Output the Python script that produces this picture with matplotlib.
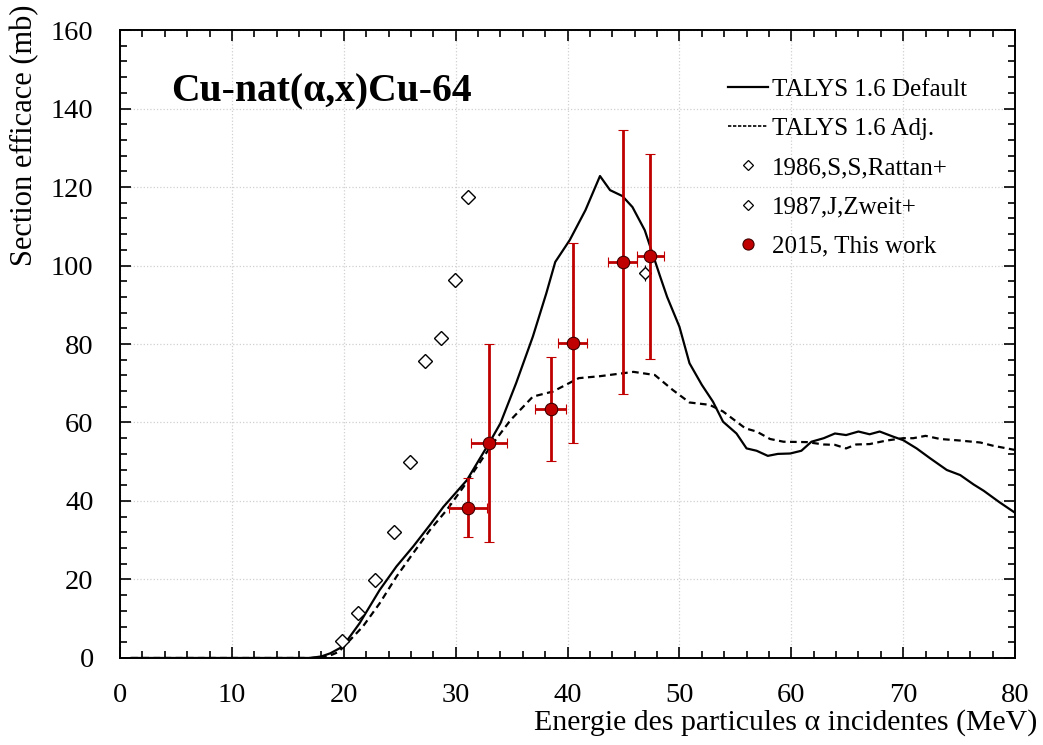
import matplotlib.pyplot as plt
from matplotlib.lines import Line2D
from matplotlib.ticker import MultipleLocator

plt.rcParams['font.family'] = ['Liberation Serif', 'DejaVu Serif']

# ===================================
# Data
# ===================================

# TALYS 1.6 default
def_e = [1, 17, 18, 18.8, 19.9, 21.4, 23.2, 24.7, 26.2, 27.7, 28.9, 31.0, 33.0, 34.0,
         35.4, 36.9, 38.1, 38.9, 40.2, 41.6, 42.9, 43.8, 44.9, 45.8, 46.9, 48.3, 48.9,
         50.0, 50.9, 52.0, 53.0, 53.9, 55.1, 56.0, 56.9, 57.9, 58.8, 59.9, 60.9, 61.8,
         62.9, 63.9, 64.9, 66.0, 67.0, 67.9, 69.1, 70.0, 71.2, 72.4, 73.9, 75.1, 76.3,
         77.2, 78.6, 80.0]
def_xs = [0, 0, 0.4, 1.2, 2.9, 8.8, 17.3, 23.3, 28.4, 33.9, 38.5, 45.3, 54.8, 59.8,
          70.0, 81.9, 92.9, 100.9, 106.5, 114.1, 122.8, 119.2, 117.7, 114.9, 109.0, 97.0, 92.0,
          84.4, 75.1, 69.6, 65.3, 60.2, 57.2, 53.4, 52.8, 51.5, 52.0, 52.1, 52.8, 55.1,
          56.0, 57.2, 56.8, 57.7, 57.0, 57.7, 56.4, 55.5, 53.4, 50.9, 47.9, 46.6, 44.2,
          42.6, 39.7, 37.0]

# TALYS 1.6 adjusted
adj_e = [1, 17, 18.5, 19.5, 19.9, 21.7, 23.2, 24.7, 26.2, 27.7, 29.2, 30.7, 33.1, 34.9,
         36.9, 38.7, 41.0, 42.9, 45.9, 47.8, 49.4, 50.9, 52.7, 53.9, 55.9, 56.9, 58.1,
         59.3, 61.4, 62.9, 63.9, 64.9, 65.8, 67.0, 68.5, 70.0, 70.9, 72.0, 73.3, 75.1,
         76.9, 78.0, 80.0]
adj_xs = [0, 0, 0.3, 1.5, 2.6, 8.0, 13.9, 20.7, 26.7, 32.6, 37.7, 43.6, 53.8, 60.6,
          66.6, 67.9, 71.3, 71.8, 72.9, 72.1, 68.3, 65.1, 64.5, 62.8, 58.5, 57.7, 55.8,
          55.1, 55.0, 54.4, 54.3, 53.4, 54.4, 54.5, 55.4, 56.0, 56.0, 56.6, 55.8, 55.4,
          54.9, 54.1, 53.0]

# 1986, S.S. Rattan
rattan_e = [19.85, 21.3, 22.8, 24.5, 25.9, 27.3, 28.7, 29.9, 31.1]
rattan_xs = [4.3, 11.5, 19.9, 32.1, 49.9, 75.7, 81.5, 96.3, 117.4]

# 1987, J. Zweit
zweit_e = [46.9]
zweit_xs = [98.1]
zweit_err = [2.0]

# 2015, this work
tw_e = [31.1, 33.0, 38.5, 40.45, 44.95, 47.4]
tw_e_err = [1.7, 1.6, 1.4, 1.3, 1.3, 1.2]
tw_xs = [38.3, 54.8, 63.4, 80.3, 100.8, 102.3]
tw_xs_err = [7.6, 25.3, 13.3, 25.5, 33.6, 26.0]

# ===================================
# Plotting
# ===================================

fig = plt.figure(figsize=(10.43, 7.45), dpi=100)
ax = fig.add_axes([0.1151, 0.1168, 0.8581, 0.8429])

red = '#c00000'

ax.plot(def_e, def_xs, color='black', lw=1.6)
ax.plot(adj_e, adj_xs, color='black', lw=1.6, ls=(0, (3, 2)))
ax.plot(rattan_e, rattan_xs, ls='none', marker='D', ms=7, mfc='white',
        mec='black', mew=1.0)
ax.errorbar(zweit_e, zweit_xs, yerr=zweit_err, ls='none', marker='D', ms=6.5,
            mfc='white', mec='black', mew=1.0, ecolor='black', elinewidth=0.8,
            capsize=0)
ax.errorbar(tw_e, tw_xs, xerr=tw_e_err, yerr=tw_xs_err, ls='none', marker='o',
            ms=9, mfc=red, mec='#400000', mew=0.8, ecolor=red, elinewidth=2,
            capsize=3.5, capthick=1.5, zorder=5)

ax.set_xlim(0, 80)
ax.set_ylim(0, 160)
ax.xaxis.set_major_locator(MultipleLocator(10))
ax.xaxis.set_minor_locator(MultipleLocator(2))
ax.yaxis.set_major_locator(MultipleLocator(20))
ax.yaxis.set_minor_locator(MultipleLocator(4))
ax.tick_params(which='both', direction='in', top=True, right=True, labelsize=20.5,
               width=1.2)
ax.tick_params(axis='y', pad=19)
ax.tick_params(axis='x', pad=18)
ax.tick_params(which='major', length=8)
ax.tick_params(which='minor', length=5)
for sp in ax.spines.values():
    sp.set_linewidth(1.4)

ax.grid(True, which='major', color='#d0d0d0', ls=':', lw=0.9)
ax.set_axisbelow(True)

ax.set_ylabel('Section efficace (mb)', fontsize=22, loc='top')
ax.yaxis.set_label_coords(-0.09, 1.04)
fig.text(0.9942, 0.020, 'Energie des particules \u03b1 incidentes (MeV)', fontsize=21.5,
         ha='right', va='baseline')

ax.text(0.057, 0.902, 'Cu-nat(\u03b1,x)Cu-64', transform=ax.transAxes, fontsize=28.5,
        fontweight='bold', va='center', ha='left')

# legend built from proxies so the markers can be small
handles = [
    Line2D([], [], color='black', lw=1.6),
    Line2D([], [], color='black', lw=1.2, ls=(0, (2, 1))),
    Line2D([], [], ls='none', marker='D', ms=5, mfc='white', mec='black', mew=0.9),
    Line2D([], [], ls='none', marker='D', ms=5, mfc='white', mec='black', mew=0.9),
    Line2D([], [], ls='none', marker='o', ms=8, mfc=red, mec='#400000', mew=0.8),
]
labels = ['TALYS 1.6 Default', 'TALYS 1.6 Adj.', '1986,S,S,Rattan+',
          '1987,J,Zweit+', '2015, This work']
ax.legend(handles, labels, loc='upper left', bbox_to_anchor=(0.668, 0.9395),
          frameon=False, fontsize=18, handlelength=1.6, handletextpad=0.15,
          labelspacing=0.67, borderaxespad=0)

plt.savefig('out.png', dpi=100)
